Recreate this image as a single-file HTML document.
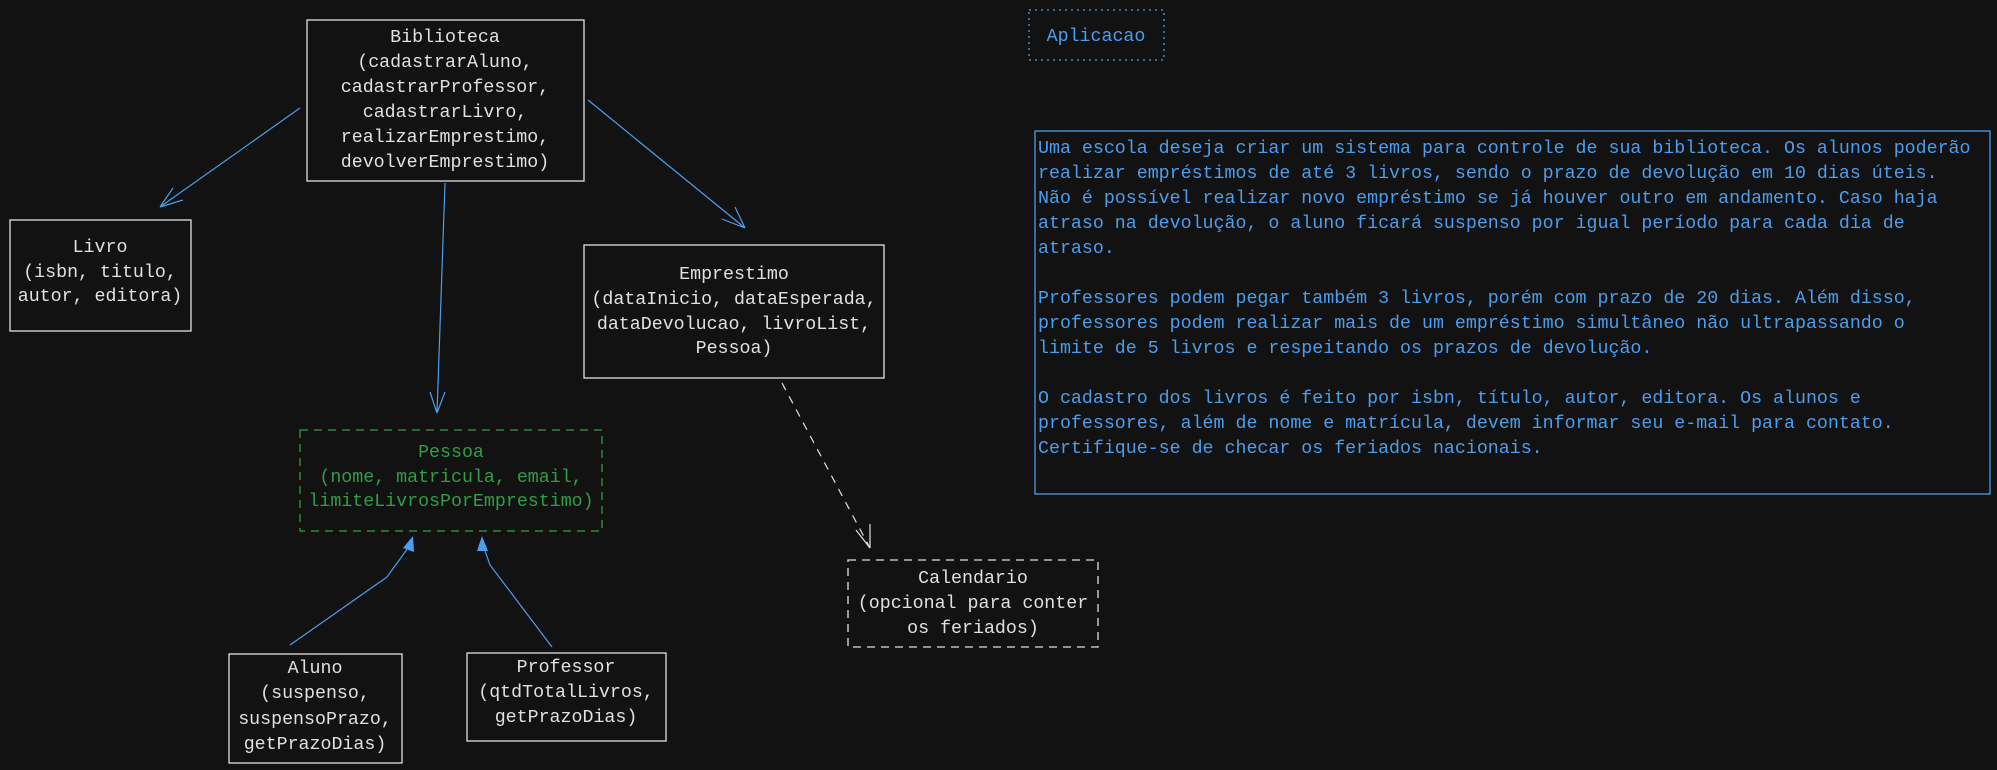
<!DOCTYPE html>
<html><head><meta charset="utf-8"><style>
html,body{margin:0;padding:0;background:#121212;}
svg{display:block}
text{font-family:"Liberation Mono",monospace;font-size:18.3px;}
</style></head><body>
<svg width="1997" height="770" viewBox="0 0 1997 770" xmlns="http://www.w3.org/2000/svg">
<rect width="1997" height="770" fill="#121212"/>
<g fill="none" stroke-width="1.3">
<rect x="307" y="20" width="277" height="161" stroke="#e0e0e0"/>
<rect x="10" y="220" width="181" height="111" stroke="#e0e0e0"/>
<rect x="584" y="245" width="300" height="133" stroke="#e0e0e0"/>
<rect x="300" y="430" width="302" height="101" stroke="#2f9e44" stroke-dasharray="8 6"/>
<rect x="848" y="560" width="250" height="87" stroke="#e0e0e0" stroke-dasharray="8 6"/>
<rect x="229" y="654" width="173" height="109" stroke="#e0e0e0"/>
<rect x="467" y="653" width="199" height="88" stroke="#e0e0e0"/>
<rect x="1029" y="10" width="135" height="50" stroke="#4a9eed" stroke-dasharray="2 4"/>
<rect x="1035" y="131" width="955" height="363" stroke="#4a9eed"/>
</g>
<g fill="none" stroke="#4a9eed" stroke-width="1.2">
<path d="M300 108 L160 207 M160 207 L173 188 M160 207 L183 200"/>
<path d="M588 100 L745 228 M745 228 L735 207 M745 228 L722 219"/>
<path d="M445 183 L437 413 M437 413 L430 392 M437 413 L445 392"/>
<path d="M290 645 L387 577 L408 548"/>
<path d="M552 647 L490 565 L484 548"/>
</g>
<g fill="#4a9eed">
<polygon points="413,536 403,548 414,552"/>
<polygon points="482,536 477,551 488,551"/>
</g>
<g fill="none" stroke="#e0e0e0" stroke-width="1.2">
<path d="M782 383 L870 548" stroke-dasharray="8 7"/>
<path d="M870 548 L856 530 M870 548 L870 524"/>
</g>
<g fill="#e0e0e0" text-anchor="middle">
<text x="445" y="42">Biblioteca</text>
<text x="445" y="67">(cadastrarAluno,</text>
<text x="445" y="92">cadastrarProfessor,</text>
<text x="445" y="117">cadastrarLivro,</text>
<text x="445" y="142">realizarEmprestimo,</text>
<text x="445" y="167">devolverEmprestimo)</text>
<text x="100" y="252">Livro</text>
<text x="100" y="277">(isbn, titulo,</text>
<text x="100" y="301">autor, editora)</text>
<text x="734" y="279">Emprestimo</text>
<text x="734" y="304">(dataInicio, dataEsperada,</text>
<text x="734" y="329">dataDevolucao, livroList,</text>
<text x="734" y="353">Pessoa)</text>
<text x="973" y="583">Calendario</text>
<text x="973" y="608">(opcional para conter</text>
<text x="973" y="633">os feriados)</text>
<text x="315" y="673">Aluno</text>
<text x="315" y="698">(suspenso,</text>
<text x="315" y="724">suspensoPrazo,</text>
<text x="315" y="749">getPrazoDias)</text>
<text x="566" y="672">Professor</text>
<text x="566" y="697">(qtdTotalLivros,</text>
<text x="566" y="722">getPrazoDias)</text>
</g>
<g fill="#2f9e44" text-anchor="middle">
<text x="451" y="457">Pessoa</text>
<text x="451" y="482">(nome, matricula, email,</text>
<text x="451" y="506">limiteLivrosPorEmprestimo)</text>
</g>
<g fill="#4a9eed">
<text x="1096" y="41" text-anchor="middle">Aplicacao</text>
<text x="1038" y="153">Uma escola deseja criar um sistema para controle de sua biblioteca. Os alunos poderão</text>
<text x="1038" y="178">realizar empréstimos de até 3 livros, sendo o prazo de devolução em 10 dias úteis.</text>
<text x="1038" y="203">Não é possível realizar novo empréstimo se já houver outro em andamento. Caso haja</text>
<text x="1038" y="228">atraso na devolução, o aluno ficará suspenso por igual período para cada dia de</text>
<text x="1038" y="253">atraso.</text>
<text x="1038" y="303">Professores podem pegar também 3 livros, porém com prazo de 20 dias. Além disso,</text>
<text x="1038" y="328">professores podem realizar mais de um empréstimo simultâneo não ultrapassando o</text>
<text x="1038" y="353">limite de 5 livros e respeitando os prazos de devolução.</text>
<text x="1038" y="403">O cadastro dos livros é feito por isbn, título, autor, editora. Os alunos e</text>
<text x="1038" y="428">professores, além de nome e matrícula, devem informar seu e-mail para contato.</text>
<text x="1038" y="453">Certifique-se de checar os feriados nacionais.</text>
</g>
</svg>
</body></html>
